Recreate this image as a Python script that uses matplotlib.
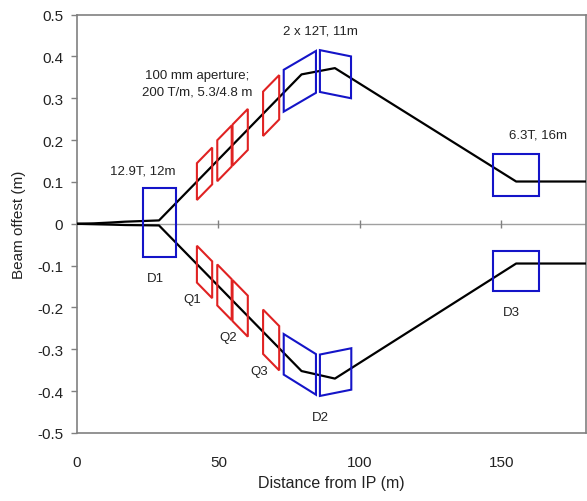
import numpy as np
import matplotlib
matplotlib.use("Agg")
import matplotlib.pyplot as plt
from matplotlib.patches import Polygon

plt.rcParams['font.family'] = ['Liberation Sans', 'DejaVu Sans']

# Beam trajectories (distance from IP, offset)
beam_x = [0, 6, 12, 17, 29, 79.4, 91.2, 155.3, 180]
upper_y = [0, 0.001, 0.003, 0.005, 0.008, 0.357, 0.372, 0.101, 0.101]
lower_y = [0, -0.001, -0.002, -0.003, -0.004, -0.352, -0.370, -0.095, -0.095]

# Quadrupoles: start, length, full height (centred on each beam)
quad_x0 = [42.4, 49.6, 55.0, 65.8]
quad_len = [5.4, 5.1, 5.4, 5.7]
quad_h = [0.088, 0.098, 0.098, 0.106]

# Dipoles: start, end, centre at start, centre at end, full height
dip_x0 = [23.2, 73.1, 85.9, 73.1, 85.9, 147.1, 147.1]
dip_x1 = [35.0, 84.5, 96.9, 84.5, 97.0, 163.4, 163.4]
dip_c0 = [0.0025, 0.318, 0.365, -0.312, -0.362, 0.1165, -0.112]
dip_c1 = [0.0025, 0.363, 0.350, -0.360, -0.347, 0.1165, -0.112]
dip_h = [0.165, 0.100, 0.100, 0.097, 0.099, 0.101, 0.096]

# Annotations
notes = ["12.9T, 12m", "100 mm aperture;\n200 T/m, 5.3/4.8 m", "2 x 12T, 11m", "6.3T, 16m",
         "D1", "Q1", "Q2", "Q3", "D2", "D3"]
note_x = [23.4, 42.5, 86.0, 163.0, 27.6, 40.8, 53.4, 64.5, 86.2, 153.7]
note_y = [0.127, 0.335, 0.462, 0.213, -0.129, -0.179, -0.27, -0.351, -0.462, -0.21]

xticks = [0, 50, 100, 150]
yticks = [0.5, 0.4, 0.3, 0.2, 0.1, 0, -0.1, -0.2, -0.3, -0.4, -0.5]

fig = plt.figure(figsize=(5.87, 5.02), dpi=100)
ax = fig.add_axes([0.1312, 0.1355, 0.8671, 0.8335])

gray = "#808080"
blue = "#1414C8"
red = "#E02222"

ax.axhline(0, color="#A0A0A0", lw=1.0, zorder=1)
ax.plot(xticks[1:], np.zeros(len(xticks) - 1), "|", color=gray, ms=6, mew=1.0, zorder=1)

for yb in (upper_y, lower_y):
    ax.plot(beam_x, yb, color="black", lw=1.6, zorder=3)
    for x0, L, h in zip(quad_x0, quad_len, quad_h):
        x1 = x0 + L
        c0 = np.interp(x0, beam_x, yb)
        c1 = np.interp(x1, beam_x, yb)
        pts = [(x0, c0 - h / 2), (x0, c0 + h / 2), (x1, c1 + h / 2), (x1, c1 - h / 2)]
        ax.add_patch(Polygon(pts, closed=True, fill=False, ec=red, lw=1.5, zorder=4))

for x0, x1, c0, c1, h in zip(dip_x0, dip_x1, dip_c0, dip_c1, dip_h):
    pts = [(x0, c0 - h / 2), (x0, c0 + h / 2), (x1, c1 + h / 2), (x1, c1 - h / 2)]
    ax.add_patch(Polygon(pts, closed=True, fill=False, ec=blue, lw=1.5, zorder=4))

for t, x, y in zip(notes, note_x, note_y):
    ax.text(x, y, t, ha="center", va="center", fontsize=9.5, color="#222222",
            linespacing=1.5)

ax.set_xlim(0, 180)
ax.set_ylim(-0.5, 0.5)
ax.set_xticks(xticks)
ax.set_yticks(yticks)
ax.set_yticklabels(["0" if v == 0 else "%.1f" % v for v in yticks])
ax.tick_params(axis="x", length=0, pad=16, labelsize=11, labelcolor="#222222")
ax.tick_params(axis="y", length=4, width=1, color=gray, pad=6, labelsize=11,
               labelcolor="#222222")

for s in ax.spines.values():
    s.set_color(gray)
    s.set_linewidth(1.2)

ax.set_xlabel("Distance from IP (m)", fontsize=11.5, labelpad=4, color="#222222")
ax.set_ylabel("Beam offest (m)", fontsize=11, labelpad=8, color="#222222")

fig.savefig("out.png", dpi=100)
